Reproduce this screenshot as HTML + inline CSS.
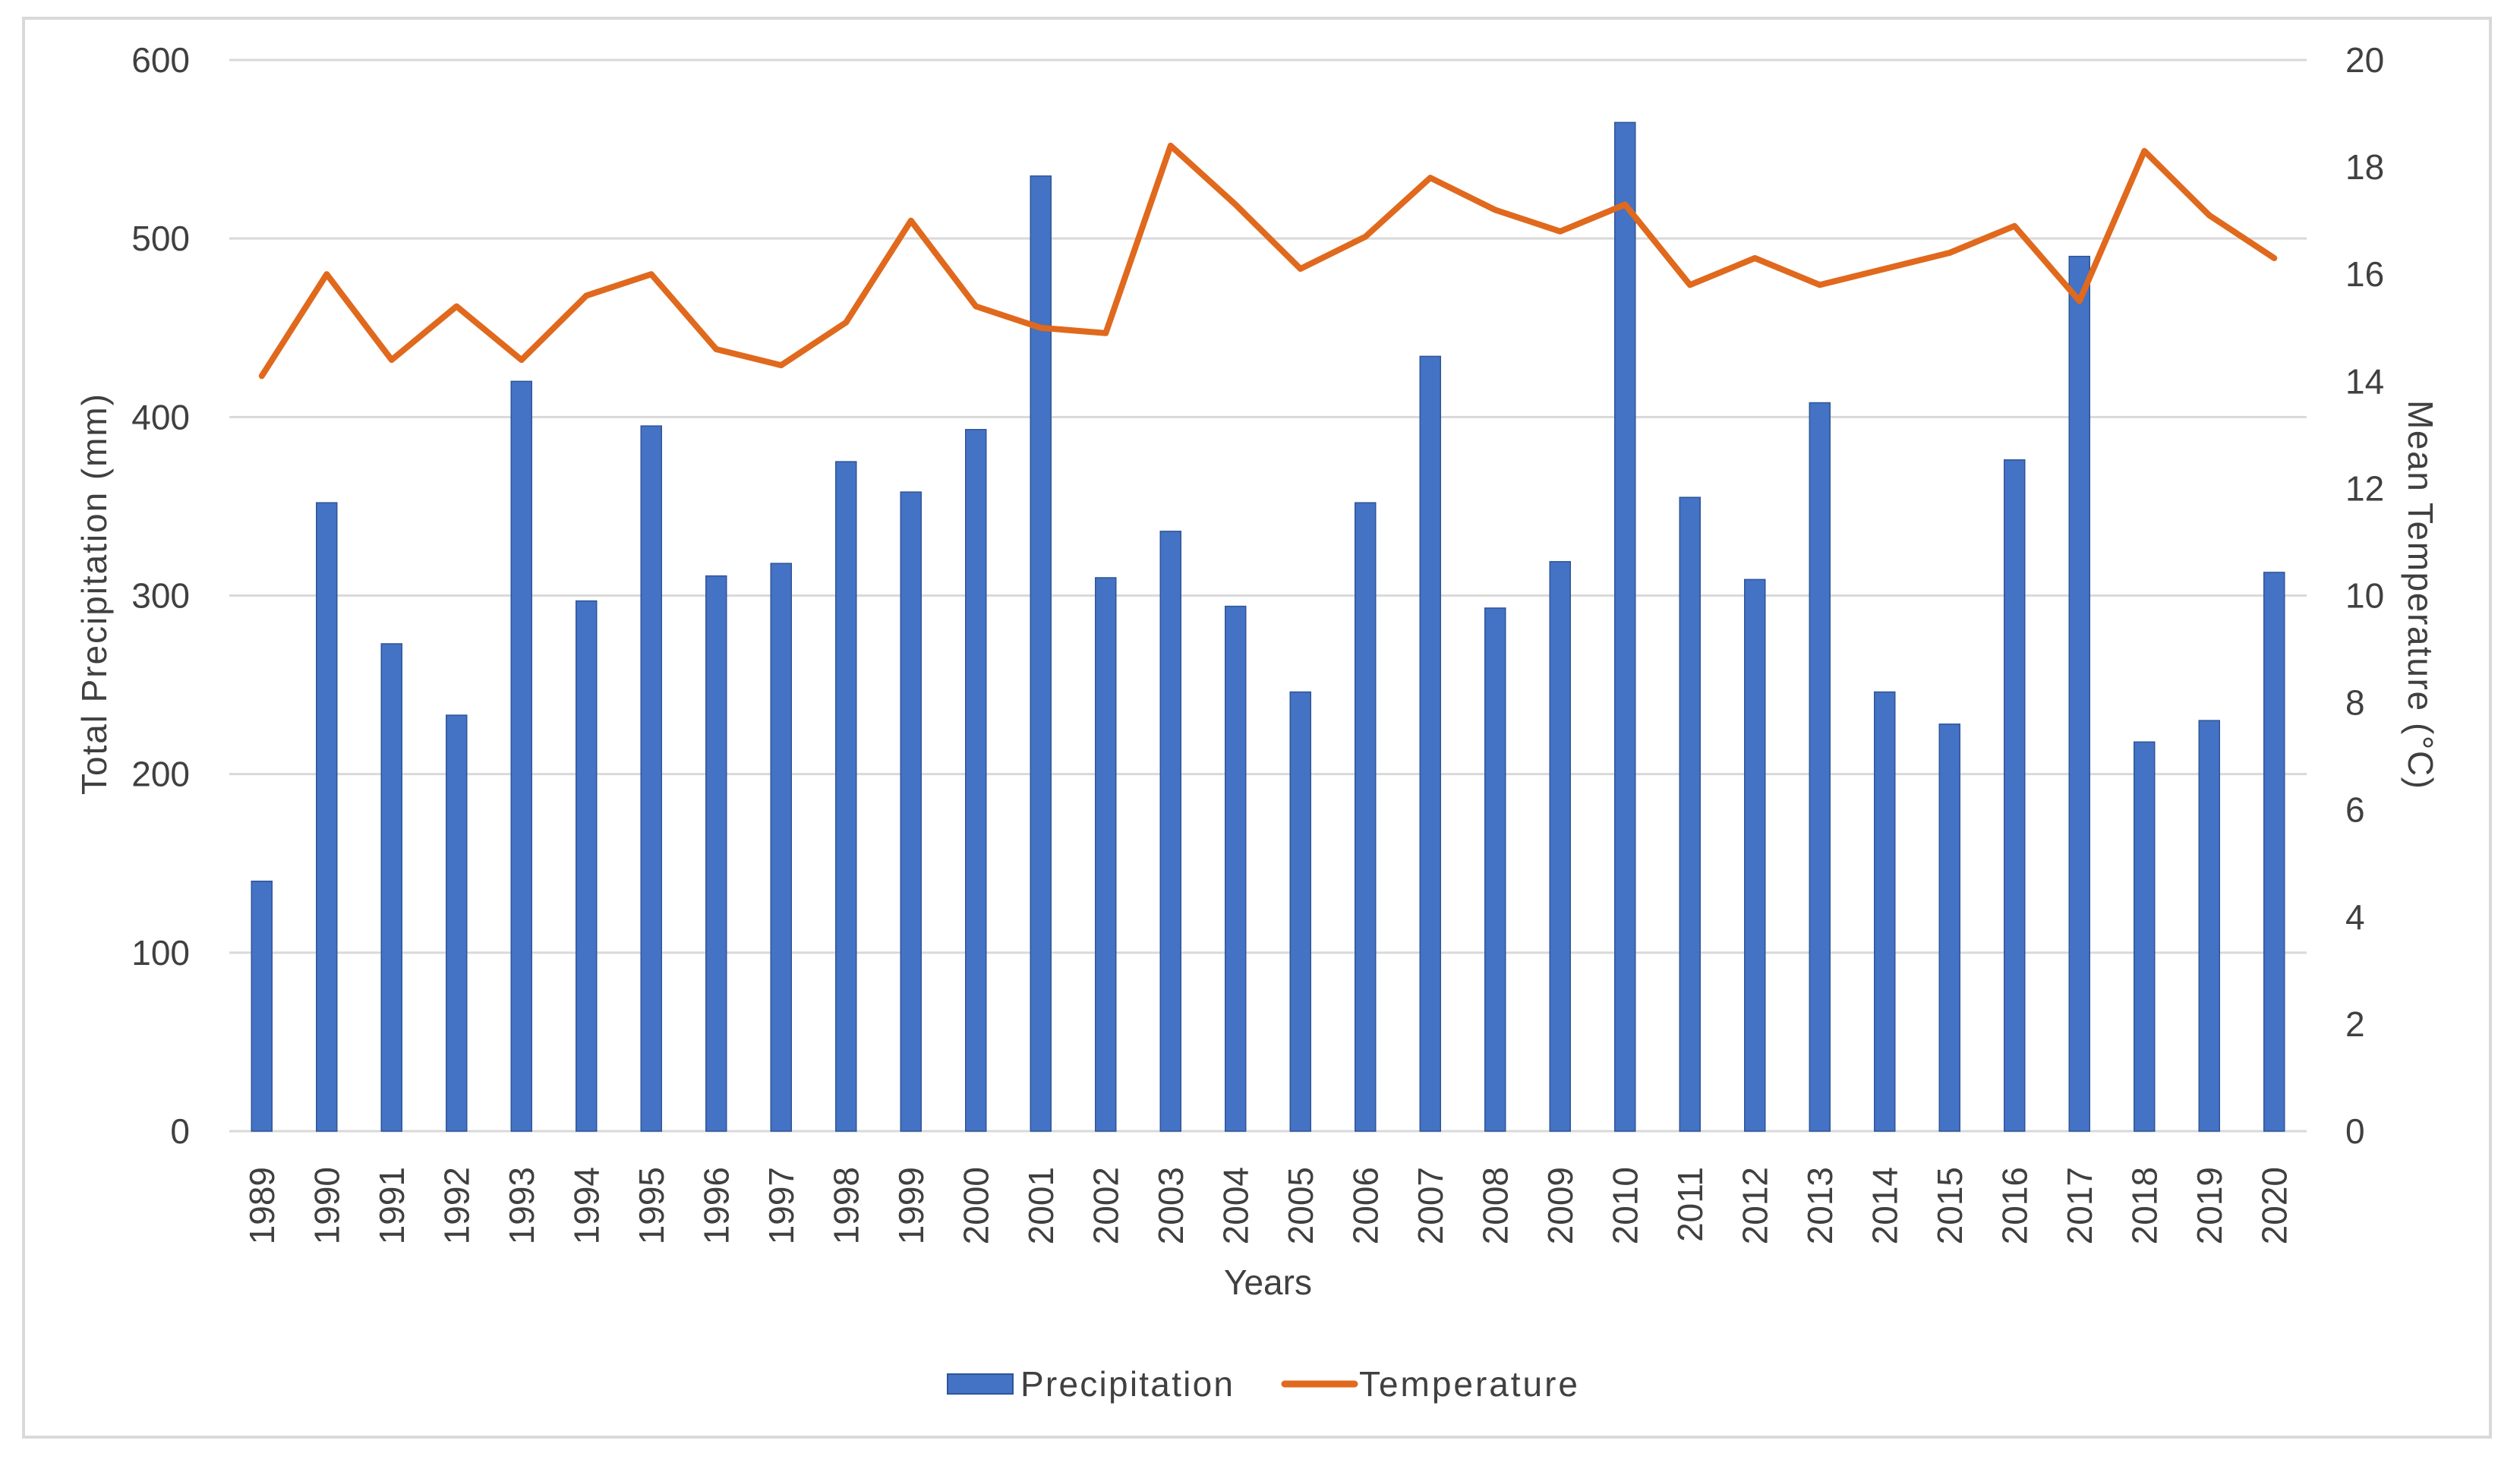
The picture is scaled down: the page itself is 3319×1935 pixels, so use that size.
<!DOCTYPE html>
<html><head><meta charset="utf-8"><style>
html,body{margin:0;padding:0;background:#fff;}
svg{display:block;font-family:"Liberation Sans",sans-serif;}
</style></head><body>
<svg id="chart" width="3319" height="1935" viewBox="0 0 3319 1935" xmlns="http://www.w3.org/2000/svg">
<rect x="31" y="24" width="3249" height="1869" fill="#fff" stroke="#d9d9d9" stroke-width="4"/>
<g id="grid"></g><g id="bars"></g><g id="line"></g><g id="labels"></g>
<text x="0" y="0" transform="translate(140,783) rotate(-90)" text-anchor="middle" font-size="46" fill="#404040" textLength="528" lengthAdjust="spacing">Total Precipitation (mm)</text>
<text x="0" y="0" transform="translate(3172,783) rotate(90)" text-anchor="middle" font-size="46" fill="#404040" textLength="512" lengthAdjust="spacing">Mean Temperature (°C)</text>
<text x="1670" y="1705" text-anchor="middle" font-size="46" fill="#404040">Years</text>
<g>
<rect x="1248" y="1810" width="86" height="26" fill="#4472C4" stroke="#2F5597" stroke-width="2"/>
<text x="1344" y="1839" font-size="46" fill="#404040" textLength="280" lengthAdjust="spacing">Precipitation</text>
<line x1="1692" y1="1823" x2="1784" y2="1823" stroke="#E0691D" stroke-width="9" stroke-linecap="round"/>
<text x="1790" y="1839" font-size="46" fill="#404040" textLength="288" lengthAdjust="spacing">Temperature</text>
</g>
</svg>
<script>
const years = [1989,1990,1991,1992,1993,1994,1995,1996,1997,1998,1999,2000,2001,2002,2003,2004,2005,2006,2007,2008,2009,2010,2011,2012,2013,2014,2015,2016,2017,2018,2019,2020];
const precipitation = [140,352,273,233,420,297,395,311,318,375,358,393,535,310,336,294,246,352,434,293,319,565,355,309,408,246,228,376,490,218,230,313];
const temperature = [14.1,16.0,14.4,15.4,14.4,15.6,16.0,14.6,14.3,15.1,17.0,15.4,15.0,14.9,18.4,17.3,16.1,16.7,17.8,17.2,16.8,17.3,15.8,16.3,15.8,16.1,16.4,16.9,15.5,18.3,17.1,16.3];
const leftTicks = [0,100,200,300,400,500,600];
const rightTicks = [0,2,4,6,8,10,12,14,16,18,20];

const NS="http://www.w3.org/2000/svg";
const X0=302, X1=3038, Y0=1490, Y1=79;
const bw=(X1-X0)/years.length;
const xc=i=>X0+bw*(i+0.5);
const yL=v=>Y0-(v/600)*(Y0-Y1);
const yR=v=>Y0-(v/20)*(Y0-Y1);
function mk(tag,attrs,parent,txt){const e=document.createElementNS(NS,tag);for(const k in attrs)e.setAttribute(k,attrs[k]);if(txt!==undefined)e.textContent=txt;document.getElementById(parent).appendChild(e);return e;}

leftTicks.forEach(t=>{
  const g=mk('line',{x1:X0,x2:X1,y1:yL(t),y2:yL(t),stroke:'#d9d9d9','stroke-width':3},'grid');
  
  
  const l=mk('text',{x:250,y:yL(t)+16,'text-anchor':'end','font-size':46,fill:'#404040'},'labels',String(t));
  
  
});
rightTicks.forEach(t=>{
  const l=mk('text',{x:3089,y:yR(t)+16,'text-anchor':'start','font-size':46,fill:'#404040'},'labels',String(t));
  
  
});
years.forEach((yr,i)=>{
  const v=precipitation[i];
  const b=mk('rect',{x:xc(i)-13.5,y:yL(v),width:27,height:Y0-yL(v),fill:'#4472C4',stroke:'#2F5597','stroke-width':1.5},'bars');
  
  
  const l=mk('text',{x:0,y:0,transform:'translate('+(xc(i)+16)+',1537) rotate(-90)','text-anchor':'end','font-size':46,fill:'#404040'},'labels',String(yr));
  
  
});
const pts=temperature.map((v,i)=>xc(i).toFixed(1)+','+yR(v).toFixed(1)).join(' ');
const pl=mk('polyline',{points:pts,fill:'none',stroke:'#E0691D','stroke-width':8,'stroke-linejoin':'round','stroke-linecap':'round'},'line');


</script>
</body></html>
